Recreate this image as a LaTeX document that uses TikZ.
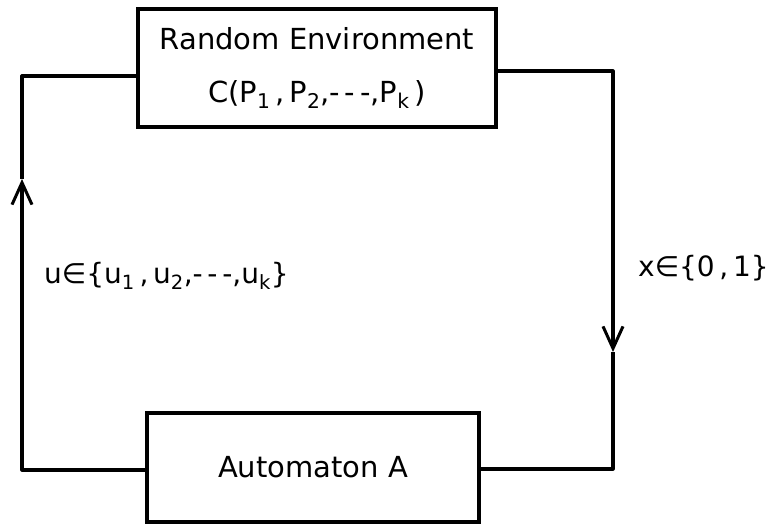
\documentclass[tikz,border=0pt]{standalone}
\usepackage{fontspec}
\setmainfont{DejaVu Sans}
\usetikzlibrary{arrows.meta}
\tikzset{
  blk/.style={draw, line width=3.2pt, rectangle, inner sep=0pt, align=center, font=\fontsize{29}{53}\selectfont},
  conn/.style={line width=3.2pt, line join=round},
  tip/.style={-{Straight Barb[length=22pt,width=20pt,line width=3pt]}},
  lbl/.style={anchor=west, inner sep=0pt, font=\fontsize{28}{34}\selectfont}
}
\begin{document}
\begin{tikzpicture}[x=1pt,y=-1pt]
\useasboundingbox (0,0) rectangle (771,525);
\node[blk, minimum width=358pt, minimum height=118pt] (env) at (317,68)
  {Random Environment\\C(P\textsubscript{1}\,,\,P\textsubscript{2},-\,-\,-,P\textsubscript{k}\,)};
\node[blk, minimum width=332pt, minimum height=109pt] (aut) at (313,467.5) {Automaton A};
\coordinate (la) at (22,179);
\coordinate (ra) at (613,352);
\draw[conn,tip] ([yshift=-2.5pt]aut.west) -| (la);
\draw[conn] (la) |- ([yshift=-8pt]env.west);
\draw[conn,tip] ([yshift=-3pt]env.east) -| (ra);
\draw[conn] (ra) |- ([yshift=-1.5pt]aut.east);
\node[lbl] (ulab) at (44,276) {u∈\{u\textsubscript{1}\,,\,u\textsubscript{2},-\,-\,-,u\textsubscript{k}\}};
\node[lbl] (xlab) at (638,268) {x∈\{0\,,\,1\}};
\end{tikzpicture}
\end{document}
